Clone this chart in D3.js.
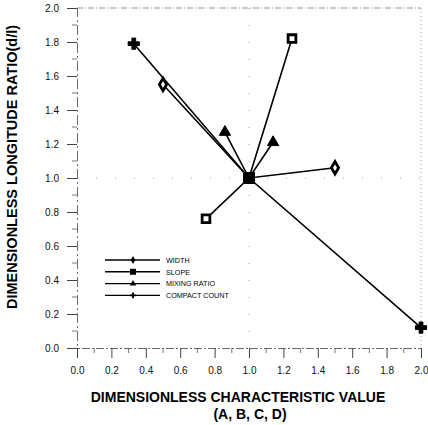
<!DOCTYPE html>
<html><head><meta charset="utf-8">
<script src="https://cdn.jsdelivr.net/npm/d3@7"></script>
<style>body{margin:0;background:#fff}svg{display:block}</style>
</head><body>
<svg id="c" width="428" height="425"></svg>
<script>
const seriesNames = ["WIDTH", "SLOPE", "MIXING RATIO", "COMPACT COUNT"];
const symbols = ["diamond", "square", "triangle", "cross"];
const widthPts = [[0.5, 1.55], [1.0, 1.0], [1.5, 1.06]];
const slopePts = [[0.75, 0.76], [1.0, 1.0], [1.25, 1.82]];
const mixingPts = [[0.86, 1.27], [1.0, 1.0], [1.14, 1.21]];
const compactPts = [[0.33, 1.79], [1.0, 1.0], [2.0, 0.12]];
const xTicks = [0, 0.2, 0.4, 0.6, 0.8, 1.0, 1.2, 1.4, 1.6, 1.8, 2.0];
const yTicks = [0, 0.2, 0.4, 0.6, 0.8, 1.0, 1.2, 1.4, 1.6, 1.8, 2.0];
const xTitle = ["DIMENSIONLESS CHARACTERISTIC VALUE", "(A,  B,  C,  D)"];
const yTitle = "DIMENSIONLESS LONGITUDE RATIO(d/l)";

const allSeries = [widthPts, slopePts, mixingPts, compactPts];
const svg = d3.select("#c");
const x = d3.scaleLinear().domain([0, 2]).range([77, 421]);
const y = d3.scaleLinear().domain([0, 2]).range([348, 8]);
const font = "Liberation Sans, Arial, sans-serif";

// frame top/right dotted
svg.append("line").attr("x1", x(0)).attr("x2", x(2)).attr("y1", y(2)).attr("y2", y(2))
  .attr("stroke", "#777").attr("stroke-width", 0.8).attr("stroke-dasharray", "6,2,1,2");
svg.append("line").attr("x1", x(2)).attr("x2", x(2)).attr("y1", y(2)).attr("y2", y(0))
  .attr("stroke", "#999").attr("stroke-width", 0.8).attr("stroke-dasharray", "1,3");
// grid at 1.0
svg.append("line").attr("x1", x(1)).attr("x2", x(1)).attr("y1", y(2)).attr("y2", y(0))
  .attr("stroke", "#888").attr("stroke-width", 0.8).attr("stroke-dasharray", "1,16");
svg.append("line").attr("x1", x(0)).attr("x2", x(2)).attr("y1", y(1)).attr("y2", y(1))
  .attr("stroke", "#888").attr("stroke-width", 0.8).attr("stroke-dasharray", "1,18");

// axes
const xAxis = d3.axisBottom(x).tickValues(xTicks).tickFormat(d3.format(".1f")).tickSize(10).tickPadding(9);
const gx = svg.append("g").attr("transform", `translate(0,${y(0)})`).call(xAxis);
gx.select(".domain").attr("stroke", "#444").attr("stroke-width", 0.8).attr("stroke-dasharray", "8,2,2,2");
gx.selectAll(".tick line").attr("stroke", "#444");
gx.selectAll("text").attr("font-family", font).attr("font-size", 10).attr("fill", "#111");
const xMinor = d3.range(0.1, 2, 0.2);
svg.append("g").selectAll("line").data(xMinor).join("line")
  .attr("x1", d => x(d)).attr("x2", d => x(d)).attr("y1", y(0)).attr("y2", y(0) + 5)
  .attr("stroke", "#555").attr("stroke-width", 0.8);

const yAxis = d3.axisLeft(y).tickValues(yTicks).tickFormat(d3.format(".1f")).tickSize(10).tickPadding(8);
const gy = svg.append("g").attr("transform", `translate(${x(0)},0)`).call(yAxis);
gy.select(".domain").attr("stroke", "#444").attr("stroke-width", 0.8).attr("stroke-dasharray", "10,3,2,3");
gy.selectAll(".tick line").attr("stroke", "#444");
gy.selectAll("text").attr("font-family", font).attr("font-size", 10).attr("fill", "#111");
const yMinor = d3.range(0.1, 2, 0.2);
svg.append("g").selectAll("line").data(yMinor).join("line")
  .attr("x1", x(0)).attr("x2", x(0) - 5).attr("y1", d => y(d)).attr("y2", d => y(d))
  .attr("stroke", "#555").attr("stroke-width", 0.8);

// titles
svg.append("text").attr("x", 238).attr("y", 402).attr("text-anchor", "middle")
  .attr("font-family", font).attr("font-weight", "bold").attr("font-size", 14).text(xTitle[0]);
svg.append("text").attr("x", 250).attr("y", 419).attr("text-anchor", "middle")
  .attr("font-family", font).attr("font-weight", "bold").attr("font-size", 14).text(xTitle[1]);
svg.append("text").attr("transform", `translate(17,167) rotate(-90)`).attr("text-anchor", "middle")
  .attr("font-family", font).attr("font-weight", "bold").attr("font-size", 14.5).text(yTitle);

// series
const line = d3.line().x(d => x(d[0])).y(d => y(d[1]));
const symType = {diamond: d3.symbolDiamond, square: d3.symbolSquare, triangle: d3.symbolTriangle, cross: d3.symbolCross};
const symSize = {diamond: 45, square: 60, triangle: 55, cross: 70};
allSeries.forEach((pts, i) => {
  const s = symbols[i];
  svg.append("path").attr("d", line(pts)).attr("fill", "none").attr("stroke", "#000").attr("stroke-width", 1.6);
  svg.append("g").selectAll("path").data(pts.filter(p => !(p[0] === 1 && p[1] === 1))).join("path")
    .attr("transform", d => `translate(${x(d[0])},${y(d[1])})`)
    .attr("d", d3.symbol().type(symType[s]).size(symSize[s]))
    .attr("fill", (s === "diamond" || s === "square") ? "#fff" : "#000")
    .attr("stroke", "#000").attr("stroke-width", (s === "diamond" || s === "square") ? 2.8 : 1);
});
// centre marker
svg.append("rect").attr("x", x(1) - 6).attr("y", y(1) - 6).attr("width", 12).attr("height", 12).attr("fill", "#000");

// legend
const leg = svg.append("g");
seriesNames.forEach((name, i) => {
  const yy = 260 + i * 11.8;
  leg.append("line").attr("x1", 105).attr("x2", 160).attr("y1", yy).attr("y2", yy).attr("stroke", "#000").attr("stroke-width", 1.4);
  const s = symbols[i];
  leg.append("path").attr("transform", `translate(133,${yy})`)
    .attr("d", d3.symbol().type(symType[s]).size(s === "square" ? 36 : 18)).attr("fill", "#000");
  leg.append("text").attr("x", 166).attr("y", yy + 2.8).attr("font-family", font).attr("font-size", 8)
    .attr("transform", `translate(166,0) scale(0.9,1) translate(-166,0)`).text(name);
});
</script>
</body></html>
